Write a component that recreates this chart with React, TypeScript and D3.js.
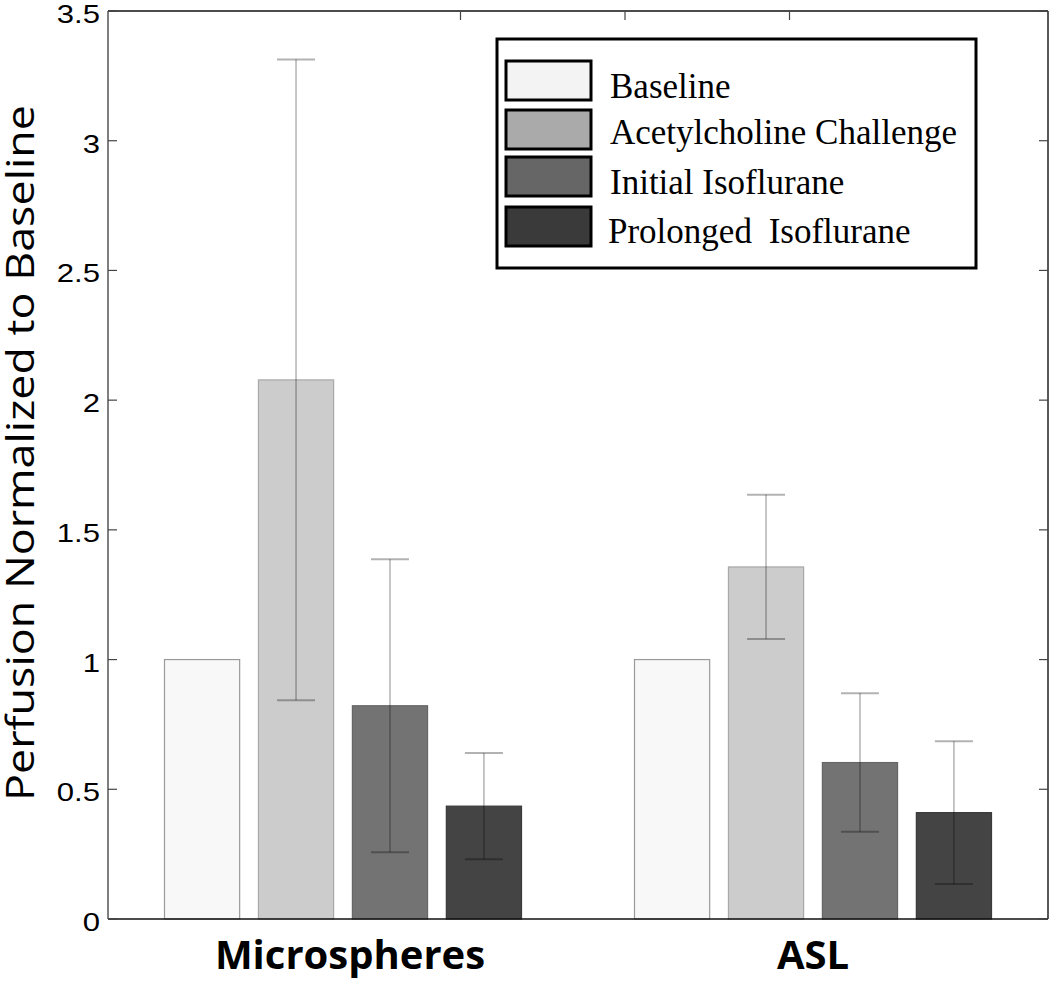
import React from "react";
import * as d3 from "d3";

const groups = ["Microspheres", "ASL"];
const series = ["Baseline", "Acetylcholine Challenge", "Initial Isoflurane", "Prolonged Isoflurane"];
const microValues = [1.0, 2.078, 0.822, 0.435];
const microErrors = [0, 1.235, 0.565, 0.205];
const aslValues = [1.0, 1.357, 0.603, 0.41];
const aslErrors = [0, 0.278, 0.267, 0.275];
const yTicks = [0, 0.5, 1, 1.5, 2, 2.5, 3, 3.5];
const topTicks = [1.25, 1.6, 1.95];

const barFills = ["#f8f8f8", "#cccccc", "#737373", "#444444"];
const barStrokes = ["#9a9a9a", "#a8a8a8", "#666666", "#3a3a3a"];
const legendFills = ["#f3f3f3", "#aaaaaa", "#666666", "#3a3a3a"];

export default function App() {
  const W = 1050, H = 981;
  const left = 108, right = 1048, top = 11, bottom = 919;
  const y = d3.scaleLinear().domain([0, 3.5]).range([bottom, top]);
  const x = d3.scaleLinear().domain([0.5, 2.5]).range([left, right]);
  const xb = d3.scaleBand<string>().domain(series).range([-178.5, 178.5]).paddingInner(0.2).paddingOuter(0);
  const bw = xb.bandwidth();
  const data = [
    { g: groups[0], vals: microValues, errs: microErrors },
    { g: groups[1], vals: aslValues, errs: aslErrors },
  ];
  const capHalf = 19;
  const labelShift = [7, 0];
  return (
    <svg width={W} height={H} style={{ position: "absolute", left: 0, top: 0, background: "#fff" }}>
      <rect x={0} y={0} width={W} height={H} fill="#fff" />
      {data.map((d, gi) => {
        const cx = x(gi + 1);
        return (
          <g key={d.g}>
            {series.map((s, i) => {
              const bx = cx + (xb(s) as number);
              const v = d.vals[i];
              const e = d.errs[i];
              const mid = bx + bw / 2;
              return (
                <g key={s}>
                  <rect x={bx} y={y(v)} width={bw} height={y(0) - y(v)} fill={barFills[i]} stroke={barStrokes[i]} strokeWidth={1.2} />
                  {e > 0 && (
                    <g stroke="#000" strokeOpacity={0.3} strokeWidth={1.5}>
                      <line x1={mid} x2={mid} y1={y(v + e)} y2={y(v - e)} />
                      <line x1={mid - capHalf} x2={mid + capHalf} y1={y(v + e)} y2={y(v + e)} strokeWidth={2} />
                      <line x1={mid - capHalf} x2={mid + capHalf} y1={y(v - e)} y2={y(v - e)} strokeWidth={2} />
                    </g>
                  )}
                </g>
              );
            })}
          </g>
        );
      })}
      {/* axes box */}
      <line x1={left} x2={right} y1={top} y2={top} stroke="#111" strokeWidth={1.5} />
      <line x1={left} x2={right} y1={bottom} y2={bottom} stroke="#111" strokeWidth={1.5} />
      <line x1={left} x2={left} y1={top} y2={bottom} stroke="#555" strokeWidth={1.5} />
      <line x1={right} x2={right} y1={top} y2={bottom} stroke="#222" strokeWidth={1.5} />
      {yTicks.map((t) => (
        <g key={t}>
          <line x1={left} x2={left + 9} y1={y(t)} y2={y(t)} stroke="#444" strokeWidth={1.2} />
          <line x1={right - 9} x2={right} y1={y(t)} y2={y(t)} stroke="#444" strokeWidth={1.2} />
          <text transform={`translate(100,${y(t) + 12}) scale(1.22,1)`} textAnchor="end" fontFamily="'Liberation Sans', Arial, sans-serif" fontSize={25.5} fill="#000">
            {String(t)}
          </text>
        </g>
      ))}
      {topTicks.map((t) => (
        <line key={t} x1={x(t)} x2={x(t)} y1={top} y2={top + 9} stroke="#444" strokeWidth={1.2} />
      ))}
      {groups.map((g, gi) => (
        <text key={g} x={x(gi + 1) + labelShift[gi]} y={969} textAnchor="middle" fontFamily="'Open Sans', Lato, sans-serif" fontWeight="bold" fontSize={40} fill="#000">
          {g}
        </text>
      ))}
      <text transform={`translate(34,453) rotate(-90)`} textAnchor="middle" fontFamily="'Open Sans', Lato, sans-serif" fontSize={38.5} textLength={696} lengthAdjust="spacingAndGlyphs" fill="#000">
        Perfusion Normalized to Baseline
      </text>
      {/* legend */}
      <rect x={497} y={39} width={479} height={229} fill="#fff" stroke="#000" strokeWidth={3} />
      {series.map((s, i) => {
        const sy = [61, 110, 157, 207][i];
        const ty = [98, 144, 194, 243][i];
        return (
          <g key={s}>
            <rect x={506} y={sy} width={85} height={39} fill={legendFills[i]} stroke="#000" strokeWidth={3} />
            <text x={i === 3 ? 608 : 610} y={ty} fontFamily="'Liberation Serif', 'Times New Roman', serif" fontSize={35} fill="#000" wordSpacing={i === 3 ? 8 : 0}>
              {s}
            </text>
          </g>
        );
      })}
    </svg>
  );
}
